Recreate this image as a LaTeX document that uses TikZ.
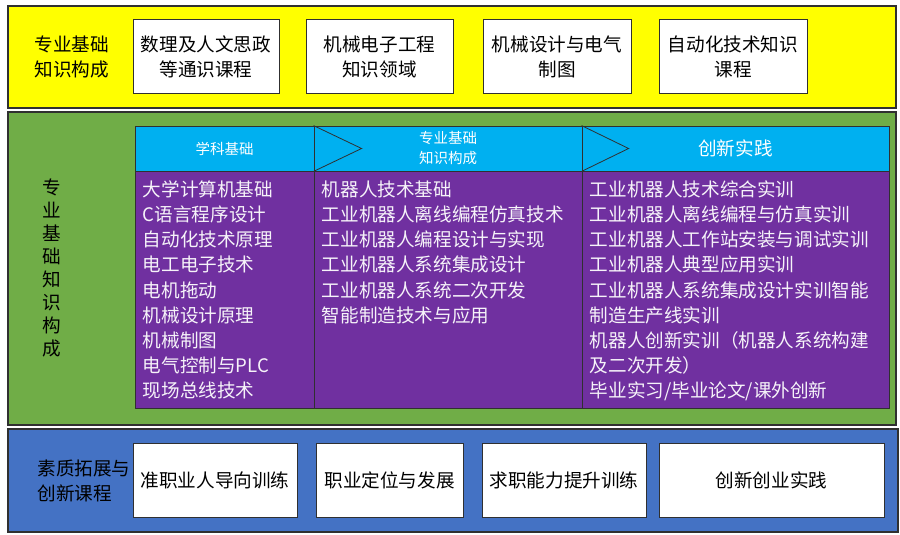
\documentclass[tikz,border=0pt]{standalone}
\usepackage{fontspec}
\setmainfont{Noto Sans CJK SC}
\usetikzlibrary{positioning}

\definecolor{panelyellow}{HTML}{FFFF00}
\definecolor{panelgreen}{HTML}{70AD47}
\definecolor{panelblue}{HTML}{4472C4}
\definecolor{headcyan}{HTML}{00B0F0}
\definecolor{bodypurple}{HTML}{7030A0}
\definecolor{edge}{HTML}{303030}

\begin{document}
\begin{tikzpicture}[x=1pt, y=-1pt,
			panel/.style={draw=edge, line width=1.2pt},
			box/.style={draw=edge, line width=1pt, fill=white, minimum height=74pt, inner sep=0pt},
			head/.style={draw=edge, line width=0.8pt, fill=headcyan, minimum height=45pt, text=white, inner sep=0pt},
			cell/.style={draw=edge, line width=0.8pt, fill=bodypurple, minimum height=237pt, inner sep=0pt},
			list/.style={align=left, inner sep=0pt, text=white!94!bodypurple, font=\fontsize{18.6}{25.2}\selectfont},
			every node/.style={align=center, font=\fontsize{18.6}{25}\selectfont}]
			
			\useasboundingbox (0,0) rectangle (900,535);
			
			% 专业基础知识构成
			\draw[panel, fill=panelyellow] (8,6) rectangle (896,108);
			\node (ytitle) at (72,57) {专业基础\\知识构成};
			\node[box, minimum width=146pt] (y1) at (206,57) {数理及人文思政\\等通识课程};
			\node[box, minimum width=147pt] (y2) at (379.5,57) {机械电子工程\\知识领域};
			\node[box, minimum width=148pt] (y3) at (557,57) {机械设计与电气\\制图};
			\node[box, minimum width=148pt] (y4) at (733,57) {自动化技术知识\\课程};
			
			% 专业基础知识构成 (table)
			\draw[panel, fill=panelgreen] (8,112) rectangle (896,425);
			\node[font=\fontsize{18.6}{22.9}\selectfont] (gtitle) at (52,268) {专\\业\\基\\础\\知\\识\\构\\成};
			
			\node[head, minimum width=179pt, font=\fontsize{14.5}{20}\selectfont] (h1) at (224.5,148.5) {学科基础};
			\node[head, minimum width=268pt, font=\fontsize{14.5}{20}\selectfont] (h2) at (448,148.5) {专业基础\\知识构成};
			\node[head, minimum width=307pt] (h3) at (735.5,148.5) {创新实践};
			\draw[edge, line width=0.8pt] (h2.north west) -- ([xshift=48pt]h2.west) -- (h2.south west);
			\draw[edge, line width=0.8pt] (h3.north west) -- ([xshift=47pt]h3.west) -- (h3.south west);
			
			\node[cell, minimum width=179pt, below=0pt of h1] (b1) {};
			\node[cell, minimum width=268pt, below=0pt of h2] (b2) {};
			\node[cell, minimum width=307pt, below=0pt of h3] (b3) {};
			
			\node[list, anchor=north west] (l1) at ([xshift=8pt, yshift=-9pt]b1.north west)
			{大学计算机基础\\C语言程序设计\\自动化技术原理\\电工电子技术\\电机拖动\\机械设计原理\\机械制图\\电气控制与PLC\\现场总线技术};
			\node[list, anchor=north west] (l2) at ([xshift=8pt, yshift=-9pt]b2.north west)
			{机器人技术基础\\工业机器人离线编程仿真技术\\工业机器人编程设计与实现\\工业机器人系统集成设计\\工业机器人系统二次开发\\智能制造技术与应用};
			\node[list, anchor=north west] (l3) at ([xshift=8pt, yshift=-9pt]b3.north west)
			{工业机器人技术综合实训\\工业机器人离线编程与仿真实训\\工业机器人工作站安装与调试实训\\工业机器人典型应用实训\\工业机器人系统集成设计实训智能\\制造生产线实训\\机器人创新实训（机器人系统构建\\及二次开发）\\毕业实习/毕业论文/课外创新};
			
			% 素质拓展与创新课程
			\draw[panel, fill=panelblue] (8,429) rectangle (898,532);
			\node[align=left, anchor=west] (btitle) at (34,481) {素质拓展与\\创新课程};
			\node[box, minimum width=164pt] (q1) at (215,480) {准职业人导向训练};
			\node[box, minimum width=147pt] (q2) at (389.5,480) {职业定位与发展};
			\node[box, minimum width=164pt] (q3) at (564,480) {求职能力提升训练};
			\node[box, minimum width=225pt] (q4) at (771.5,480) {创新创业实践};
			
\end{tikzpicture}
\end{document}
